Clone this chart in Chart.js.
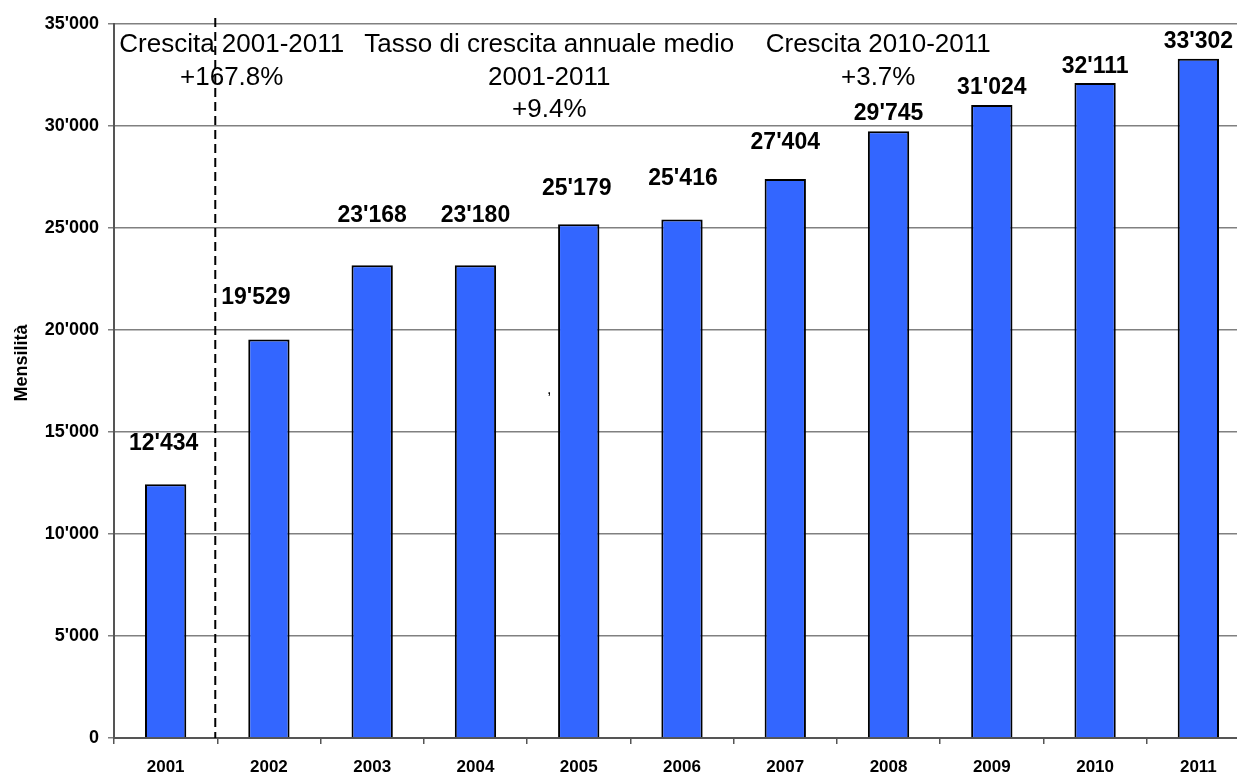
<!DOCTYPE html>
<html>
<head>
<meta charset="utf-8">
<script src="https://cdn.jsdelivr.net/npm/chart.js@4/dist/chart.umd.min.js"></script>
<style>
  html, body { margin:0; padding:0; background:#fff; overflow:hidden; }
  #wrap { width:1250px; height:774px; }
</style>
</head>
<body>
<div id="wrap"><canvas id="mensilita-chart" width="1250" height="774"></canvas></div>
<script>
var years = ['2001','2002','2003','2004','2005','2006','2007','2008','2009','2010','2011'];
var mensilita = [12434, 19529, 23168, 23180, 25179, 25416, 27404, 29745, 31024, 32111, 33302];
var yTicks = [0, 5000, 10000, 15000, 20000, 25000, 30000, 35000];

// gap (px) between bar top and label baseline, and small horizontal shifts, as in the original
var labelGap = [34, 36, 43, 43, 29, 35, 30, 11, 11, 10, 11];
var labelShift = [-2, -13, 0, 0, -2, 1, 0, 0, 0, 0, 0];

var notes = [
    { at: 0.64, lines: ['Crescita 2001-2011', '+167.8%'] },
    { at: 3.715, lines: ['Tasso di crescita annuale medio', '2001-2011', '+9.4%'] },
    { at: 6.9, lines: ['Crescita 2010-2011', '+3.7%'] }
];

var FONT = 'Arial, "Liberation Sans", sans-serif';

function fmt(v){
    return String(v).replace(/\B(?=(\d{3})+(?!\d))/g, "'");
}

var extras = {
    id: 'extras',
    afterDatasetsDraw: function(chart){
        var c = chart.ctx, a = chart.chartArea;
        var xs = chart.scales.x;
        c.save();

        // dashed separator between 2001 and 2002
        var xd = (xs.getPixelForValue(0) + xs.getPixelForValue(1)) / 2 - 2;
        c.strokeStyle = '#000';
        c.lineWidth = 2;
        c.setLineDash([9, 5]);
        c.beginPath();
        c.moveTo(xd, a.top - 6);
        c.lineTo(xd, a.bottom);
        c.stroke();
        c.setLineDash([]);

        // value labels
        var meta = chart.getDatasetMeta(0);
        c.fillStyle = '#000';
        c.font = 'bold 23px ' + FONT;
        c.textAlign = 'center';
        c.textBaseline = 'alphabetic';
        meta.data.forEach(function(bar, i){
            c.fillText(fmt(mensilita[i]), bar.x + labelShift[i], bar.y - labelGap[i]);
        });

        // growth notes
        c.font = '26px ' + FONT;
        notes.forEach(function(n){
            var x = xs.getPixelForValue(n.at);
            n.lines.forEach(function(t, k){
                c.fillText(t, x, a.top + 28 + k * 32.5);
            });
        });
        c.font = '16px ' + FONT;
        c.fillText(',', xs.getPixelForValue(3.715), a.top + 370);

        // y axis title
        c.font = 'bold 18px ' + FONT;
        c.translate(27, 363);
        c.rotate(-Math.PI / 2);
        c.fillText('Mensilità', 0, 0);
        c.restore();
    }
};

new Chart(document.getElementById('mensilita-chart'), {
    type: 'bar',
    data: {
        labels: years,
        datasets: [{
            data: mensilita,
            backgroundColor: '#3366FF',
            borderColor: '#000',
            borderWidth: 2,
            barPercentage: 0.4,
            categoryPercentage: 1
        }]
    },
    options: {
        responsive: false,
        animation: false,
        layout: { padding: { top: 24, left: 0, right: 0, bottom: 0 } },
        plugins: { legend: { display: false }, tooltip: { enabled: false } },
        scales: {
            x: {
                afterFit: function(s){ s.height = 36; },
                grid: { drawOnChartArea: false, offset: true, tickLength: 6, color: '#555', lineWidth: 1.5 },
                border: { color: '#555', width: 2 },
                ticks: { color: '#000', font: { family: FONT, size: 17, weight: 'bold' }, padding: 13 }
            },
            y: {
                min: 0,
                max: 35000,
                afterFit: function(s){ s.width = 114; },
                afterBuildTicks: function(s){ s.ticks = yTicks.map(function(v){ return { value: v }; }); },
                grid: { color: '#808080', lineWidth: 1.5, tickLength: 6 },
                border: { color: '#555', width: 2 },
                ticks: {
                    color: '#000',
                    font: { family: FONT, size: 18, weight: 'bold' },
                    padding: 9,
                    callback: function(v){ return fmt(v); }
                }
            }
        }
    },
    plugins: [extras]
});
</script>
</body>
</html>
